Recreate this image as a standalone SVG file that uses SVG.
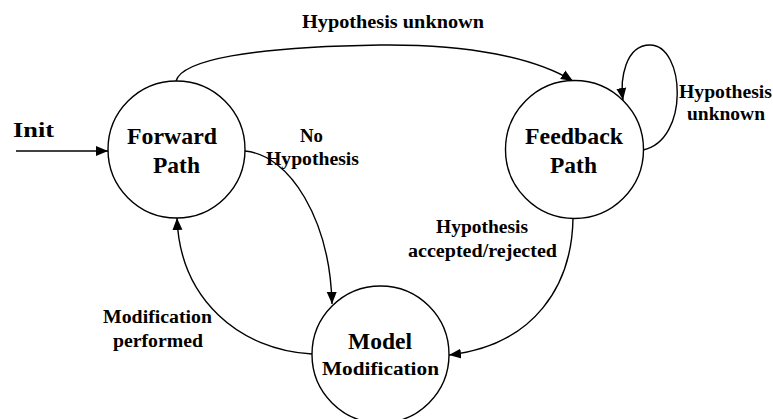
<svg xmlns="http://www.w3.org/2000/svg" width="773" height="419" viewBox="0 0 773 419">
<style>
.node{fill:#fff;stroke:#000;stroke-width:1.4}
.t{font-family:"Liberation Serif","Times New Roman",serif;font-weight:bold;fill:#000}
.big{font-size:23px}
.lbl{font-size:18px}
.edge{fill:none;stroke:#000;stroke-width:1.4}
</style>
<defs>
<marker id="arr" markerUnits="userSpaceOnUse" markerWidth="14" markerHeight="12" refX="12" refY="5" orient="auto" viewBox="0 0 14 10">
<path d="M0,0 L12,5 L0,10 Z" fill="#000"/>
</marker>
</defs>
<rect width="773" height="419" fill="#fff"/>
<g id="connectors">
<path class="edge" d="M16,151 L108,151" marker-end="url(#arr)"/>
<path class="edge" d="M176,81 C182,60 250,47 380,45 C470,44 535,58 573,81" marker-end="url(#arr)"/>
<path class="edge" d="M643,150 C690,140 685,45 650,45 C625,45 620,80 623,100" marker-end="url(#arr)"/>
<path class="edge" d="M245,151 C290,155 330,220 332,304" marker-end="url(#arr)"/>
<path class="edge" d="M312,354 C240,350 180,300 177,218" marker-end="url(#arr)"/>
<path class="edge" d="M573,218 C572,285 535,345 449,355" marker-end="url(#arr)"/>
</g>
<g id="init">
<text class="t" x="13" y="137" font-size="22" textLength="41" lengthAdjust="spacingAndGlyphs">Init</text>
</g>
<g id="forward">
<circle class="node" cx="176.5" cy="149.5" r="68.5"/>
<text class="t big" x="127" y="144" textLength="90" lengthAdjust="spacingAndGlyphs">Forward</text>
<text class="t big" x="153" y="173" textLength="47" lengthAdjust="spacingAndGlyphs">Path</text>
</g>
<g id="feedback">
<circle class="node" cx="574.5" cy="149.5" r="69"/>
<text class="t big" x="525" y="144" textLength="98" lengthAdjust="spacingAndGlyphs">Feedback</text>
<text class="t big" x="550" y="173" textLength="47" lengthAdjust="spacingAndGlyphs">Path</text>
</g>
<g id="model">
<circle class="node" cx="380.5" cy="354.5" r="68.5"/>
<text class="t big" x="348" y="349" textLength="64" lengthAdjust="spacingAndGlyphs">Model</text>
<text class="t" x="322" y="375" font-size="19" textLength="117" lengthAdjust="spacingAndGlyphs">Modification</text>
</g>
<g id="labels">
<text class="t lbl" x="302" y="28" textLength="182" lengthAdjust="spacingAndGlyphs">Hypothesis unknown</text>
<text class="t lbl" x="679" y="98" textLength="93" lengthAdjust="spacingAndGlyphs">Hypothesis</text>
<text class="t lbl" x="687" y="120" textLength="78" lengthAdjust="spacingAndGlyphs">unknown</text>
<text class="t lbl" x="300" y="142" textLength="23" lengthAdjust="spacingAndGlyphs">No</text>
<text class="t lbl" x="266" y="165" textLength="93" lengthAdjust="spacingAndGlyphs">Hypothesis</text>
<text class="t lbl" x="436" y="233" textLength="92" lengthAdjust="spacingAndGlyphs">Hypothesis</text>
<text class="t lbl" x="408" y="257" textLength="149" lengthAdjust="spacingAndGlyphs">accepted/rejected</text>
<text class="t lbl" x="103" y="323" textLength="109" lengthAdjust="spacingAndGlyphs">Modification</text>
<text class="t lbl" x="113" y="347" textLength="90" lengthAdjust="spacingAndGlyphs">performed</text>
</g>
</svg>
